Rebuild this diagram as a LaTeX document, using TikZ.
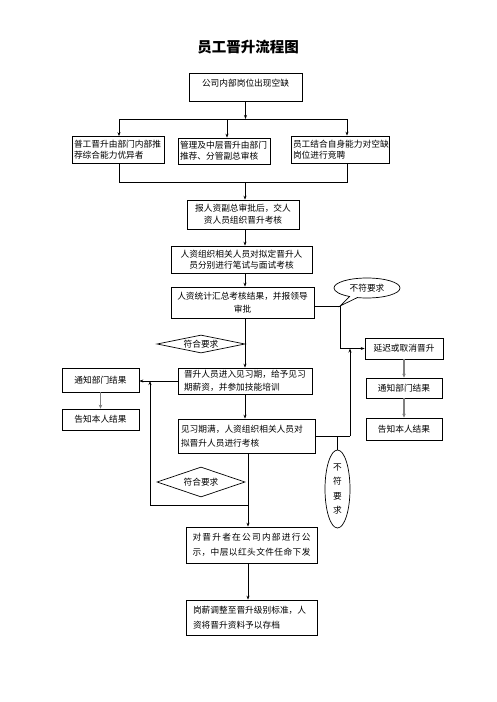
\documentclass[tikz,border=0pt]{standalone}
\usepackage{fontspec}
\setmainfont{Noto Sans CJK SC}
\usetikzlibrary{arrows.meta,shapes.geometric,shapes.callouts}
\begin{document}
\begin{tikzpicture}[x=1pt,y=-1pt,
  fs/.style={font=\fontsize{8.7}{#1}\selectfont},
  bx/.style={draw, line width=0.7pt, inner ysep=0pt, inner xsep=2pt, fs=12},
  ln/.style={line width=0.7pt},
  arr/.style={line width=0.7pt, -{Stealth[length=4pt,width=3pt]}},
  garr/.style={line width=1.4pt, draw=black!50, -{Stealth[length=4pt,width=3.5pt]}},
  dia/.style={diamond, draw, line width=0.7pt, inner sep=0pt, shape aspect=4, fs=12},
]
\fill[white] (0,0) rectangle (496,702);
\useasboundingbox (0,0) rectangle (496,702);

\node[font=\fontsize{14.5}{16}\selectfont\bfseries] (title) at (248,47) {员工晋升流程图};

% top box
\node[bx, minimum width=113pt, minimum height=28pt] (b1) at (245.5,87) {};
\node[fs=12, inner sep=0pt] (b1t) at (245.5,83) {公司内部岗位出现空缺};

% three source boxes
\node[bx, fs=11, text width=88pt, minimum height=27pt, align=left] (b2a) at (118,150) {普工晋升由部门内部推\\荐综合能力优异者};
\node[bx, fs=11, text width=88pt, minimum height=26pt, align=left] (b2b) at (224,151) {管理及中层晋升由部门\\推荐、分管副总审核};
\node[bx, fs=11, text width=94pt, minimum height=27pt, align=left] (b2c) at (340,149.5) {员工结合自身能力对空缺\\岗位进行竞聘};

% main column
\node[bx, fs=12, text width=108pt, minimum height=29pt, align=center] (b3) at (243,214.5) {报人资副总审批后，交人\\资人员组织晋升考核};
\node[bx, fs=11, text width=137pt, minimum height=27pt, align=center] (b4) at (241.5,259.5) {人资组织相关人员对拟定晋升人\\员分别进行笔试与面试考核};
\node[bx, fs=13, text width=139pt, minimum height=31pt, align=center] (b5) at (242.5,302.5) {人资统计汇总考核结果，并报领导\\审批};
\node[dia, minimum width=88pt, minimum height=18pt] (d1) at (201,344) {符合要求};
\node[bx, fs=13, inner xsep=6pt, text width=122pt, minimum height=26pt, align=left] (b6) at (245,381) {晋升人员进入见习期，给予见习\\期薪资，并参加技能培训};
\node[bx, fs=14, inner xsep=3pt, text width=131pt, minimum height=34pt, align=left] (b7) at (246.5,436) {见习期满，人资组织相关人员对\\拟晋升人员进行考核};
\node[dia, minimum width=88pt, minimum height=30pt] (d2) at (201,482) {符合要求};
\node[bx, fs=15, inner xsep=6.5pt, text width=118pt, minimum height=36pt, align=left] (b8) at (251.5,545) {\makebox[118pt][s]{对\hfil 晋\hfil 升\hfil 者\hfil 在\hfil 公\hfil 司\hfil 内\hfil 部\hfil 进\hfil 行\hfil 公}\\\makebox[118pt][s]{示\hfil ，\hfil 中\hfil 层\hfil 以\hfil 红\hfil 头\hfil 文\hfil 件\hfil 任\hfil 命\hfil 下\hfil 发}};
\node[bx, fs=15, inner xsep=7pt, text width=117pt, minimum height=35pt, align=left] (b9) at (251.5,617.5) {岗薪调整至晋升级别标准，人\\资将晋升资料予以存档};

% left column
\node[bx, minimum width=77pt, minimum height=24pt] (n1) at (100.5,380) {通知部门结果};
\node[bx, minimum width=77pt, minimum height=21pt] (n2) at (100.5,419.5) {告知本人结果};

% right column
\node[bx, minimum width=78pt, minimum height=21pt] (dl) at (404,348.5) {延迟或取消晋升};
\node[bx, minimum width=76pt, minimum height=20pt] (rn1) at (404,388) {通知部门结果};
\node[bx, minimum width=76pt, minimum height=22pt] (rn2) at (404,429) {告知本人结果};

% coordinates
\coordinate (brL) at (119,119);
\coordinate (brM) at (227,119);
\coordinate (brR) at (347,119);
\coordinate (mgL) at (119,182);
\coordinate (mgR) at (347,182);
\coordinate (mgM) at (245,182);
\coordinate (fb) at (248,505);
\coordinate (fbL) at (150,505);
\coordinate (r1) at (340,306);
\coordinate (r2) at (350,436);

% callouts
\node[ellipse callout, draw, line width=0.7pt, minimum width=66pt, minimum height=20pt, inner sep=0pt, fs=12, callout absolute pointer={(r1)}] (c1) at (367,288) {不符要求};
\node[ellipse, draw, line width=0.7pt, minimum width=25pt, minimum height=78pt, inner sep=0pt, fs=14.5, align=center] (c2) at (337.5,489) {不\\符\\要\\求};

% connectors
\draw[arr] (b1.south) -- (b1.south |- brL);
\draw[ln] (brL) -- (brR);
\draw[arr] (brL) -- (brL |- b2a.north);
\draw[arr] (brM) -- (brM |- b2b.north);
\draw[arr] (brR) -- (brR |- b2c.north);
\draw[ln] (brL |- b2a.south) -- (mgL) -- (mgR) -- (brR |- b2c.south);
\draw[arr] (mgM) -- (mgM |- b3.north);
\draw[arr] (mgM |- b3.south) -- (mgM |- b4.north);
\draw[arr] (mgM |- b4.south) -- (mgM |- b5.north);
\draw[arr] (mgM |- b5.south) -- (mgM |- b6.north);
\draw[arr] (mgM |- b6.south) -- (mgM |- b7.north);
\draw[arr] (fb |- b7.south) -- (fb |- b8.north);
\draw[arr] (fb |- b8.south) -- (fb |- b9.north);
\draw[ln] (fb) -- (fbL);
\draw[arr] (fbL) -- (fbL |- b6.west);
\draw[arr] (b6.west) -- (n1.east |- b6.west);
\draw[garr] (n1.south) -- (n2.north);

\draw[ln] (b5.east |- r1) -- (r1);
\draw[arr] (r1) |- (dl.west);
\draw[ln] (b7.east) -- (r2);
\draw[arr] (r2) -- (r2 |- dl.west);
\draw[ln] (c2.north) -- (c2.north |- r2);
\draw[garr] (dl.south) -- (rn1.north);
\draw[garr] (rn1.south) -- (rn2.north);
\end{tikzpicture}
\end{document}
